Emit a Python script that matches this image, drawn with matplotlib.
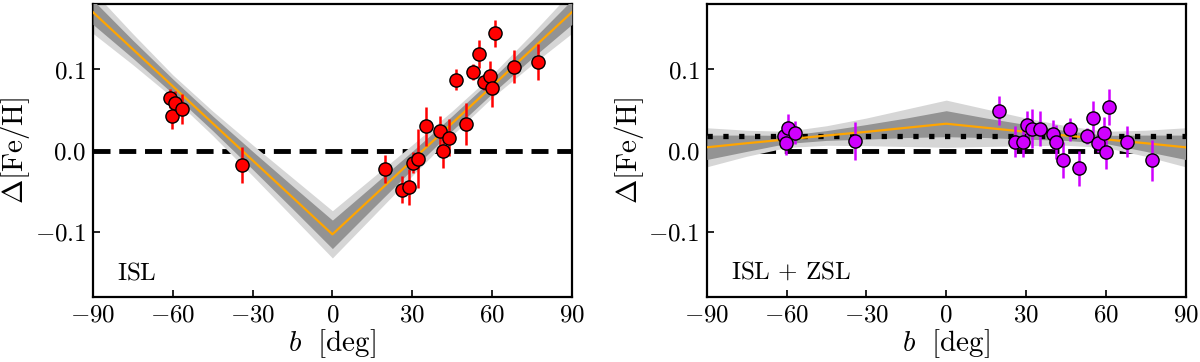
import numpy as np
import matplotlib
matplotlib.use("Agg")
import matplotlib.pyplot as plt
from matplotlib.ticker import FuncFormatter

plt.rcParams['mathtext.fontset'] = 'cm'
plt.rcParams['font.family'] = 'serif'
plt.rcParams['font.serif'] = ['DejaVu Serif']

# galactic latitude of each field (same fields in both panels)
b = np.array([-61.0, -59.3, -60.3, -56.7, -34.1,
              19.9, 26.0, 28.8, 30.2, 32.1, 35.3, 40.3, 41.4, 44.0, 46.6,
              50.1, 52.9, 55.3, 56.9, 59.4, 60.1, 61.2, 68.1, 77.4])

# ISL only
dfeh_isl = np.array([0.064, 0.058, 0.042, 0.051, -0.018,
                     -0.023, -0.048, -0.045, -0.015, -0.010, 0.030, 0.024, 0.000, 0.016, 0.087,
                     0.033, 0.097, 0.119, 0.084, 0.092, 0.077, 0.144, 0.103, 0.109])
err_isl = np.array([0.012, 0.015, 0.015, 0.018, 0.022,
                    0.017, 0.017, 0.022, 0.013, 0.036, 0.024, 0.018, 0.021, 0.023, 0.013,
                    0.026, 0.010, 0.017, 0.010, 0.018, 0.023, 0.017, 0.020, 0.022])

# ISL + ZSL
dfeh_zsl = np.array([0.018, 0.028, 0.009, 0.022, 0.012,
                     0.049, 0.011, 0.011, 0.032, 0.027, 0.027, 0.020, 0.011, -0.012, 0.026,
                     -0.022, 0.018, 0.040, 0.009, 0.021, -0.002, 0.054, 0.011, -0.012])
err_zsl = np.array([0.014, 0.017, 0.014, 0.014, 0.023,
                    0.018, 0.019, 0.019, 0.017, 0.024, 0.022, 0.018, 0.021, 0.022, 0.014,
                    0.022, 0.010, 0.021, 0.011, 0.020, 0.021, 0.022, 0.019, 0.025])

# model fits: centre line and band half-widths read at these |b|
absb = np.array([0, 15, 30, 45, 60, 75, 90])
fit_isl = np.array([-0.103, -0.0575, -0.012, 0.0335, 0.079, 0.1245, 0.170])
w1_isl = np.array([0.0175, 0.014, 0.011, 0.009, 0.009, 0.011, 0.015])
w2_isl = np.array([0.029, 0.024, 0.019, 0.015, 0.014, 0.019, 0.026])
fit_zsl = np.array([0.033, 0.028, 0.023, 0.0185, 0.0137, 0.009, 0.004])
w1_zsl = np.array([0.016, 0.012, 0.009, 0.006, 0.005, 0.010, 0.015])
w2_zsl = np.array([0.029, 0.023, 0.017, 0.012, 0.010, 0.016, 0.024])

mean_zsl = 0.018

fig = plt.figure(figsize=(12, 3.62), dpi=100)
ax1 = fig.add_axes([0.0775, 0.1796, 0.399, 0.809])
ax2 = fig.add_axes([0.589, 0.1796, 0.399, 0.809])

panels = [(ax1, dfeh_isl, err_isl, fit_isl, w1_isl, w2_isl, 'red', r'$\mathrm{ISL}$'),
          (ax2, dfeh_zsl, err_zsl, fit_zsl, w1_zsl, w2_zsl, '#d000ff',
           r'$\mathrm{ISL}\,+\,\mathrm{ZSL}$')]

xb = np.concatenate([-absb[::-1], absb[1:]])

for ax, y, e, fit, w1, w2, col, label in panels:
    fb = np.concatenate([fit[::-1], fit[1:]])
    s1 = np.concatenate([w1[::-1], w1[1:]])
    s2 = np.concatenate([w2[::-1], w2[1:]])
    ax.axhline(0, color='k', lw=3.5, dashes=(3.5, 1.8), zorder=1)
    ax.fill_between(xb, fb - s2, fb + s2, color='#d6d6d6', lw=0, zorder=2)
    ax.fill_between(xb, fb - s1, fb + s1, color='#939393', lw=0, zorder=3)
    if ax is ax2:
        ax.axhline(mean_zsl, color='k', lw=3.8, dashes=(1, 2.0), zorder=4)
    ax.plot(xb, fb, color='orange', lw=1.6, zorder=5)
    ax.errorbar(b, y, yerr=e, fmt='o', ms=9.5, mfc=col, mec='k', mew=1.0,
                ecolor=col, elinewidth=1.8, capsize=0, zorder=6)
    ax.set_xlim(-90, 90)
    ax.set_ylim(-0.18, 0.18)
    ax.set_xticks([-90, -60, -30, 0, 30, 60, 90])
    ax.set_yticks([-0.1, 0.0, 0.1])
    ax.xaxis.set_major_formatter(FuncFormatter(lambda v, p: r'$%d$' % v))
    ax.yaxis.set_major_formatter(FuncFormatter(lambda v, p: r'$%.1f$' % v))
    ax.tick_params(direction='in', length=5, width=1.2, labelsize=18, pad=5)
    for sp in ax.spines.values():
        sp.set_linewidth(1.6)
    ax.set_xlabel(r'$b\ \ [\mathrm{deg}]$', fontsize=21, labelpad=0)
    ax.set_ylabel(r'$\Delta[\mathrm{Fe/H}]$', fontsize=21, labelpad=2)
    ax.text(-81, -0.15, label, fontsize=18, va='center', ha='left')

plt.savefig('out.png', dpi=100)
